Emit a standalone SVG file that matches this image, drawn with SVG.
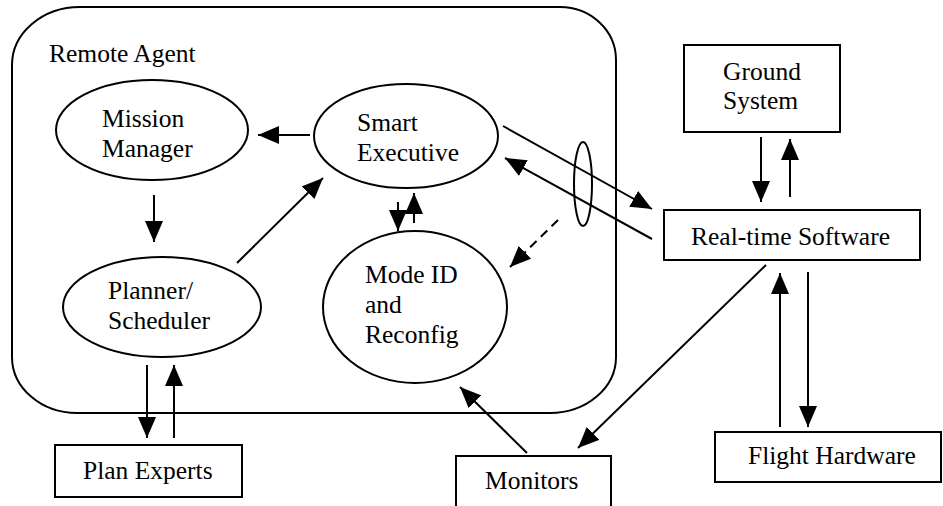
<svg xmlns="http://www.w3.org/2000/svg" width="943" height="506" viewBox="0 0 943 506">
  <style>
    .shape { fill: none; stroke: #000; stroke-width: 2; }
    .label { font-family: "Liberation Serif", "Times New Roman", serif; font-size: 25.5px; fill: #000; }
    .link { fill: none; stroke: #000; stroke-width: 2; marker-end: url(#head); }
    .dashed { stroke-dasharray: 9 6; }
  </style>
  <defs>
    <marker id="head" markerUnits="userSpaceOnUse" markerWidth="22" markerHeight="18" refX="21" refY="9" orient="auto">
      <path d="M0,0 L21,9 L0,18 Z" fill="#000"/>
    </marker>
  </defs>
  <rect x="0" y="0" width="943" height="506" fill="#fff"/>

  <!-- Remote Agent container (rounded outline with slightly uneven corners) -->
  <g id="remote-agent">
    <path class="shape" d="M80,7 L560,7 A56,53 0 0 1 616,60 L616,357 A66,56 0 0 1 550,413 L77,413 A65,56 0 0 1 12,357 L12,65 A68,58 0 0 1 80,7 Z"/>
    <text class="label" x="49" y="62">Remote Agent</text>
  </g>

  <g id="mission-manager">
    <ellipse class="shape" cx="152" cy="130" rx="96" ry="50"/>
    <text class="label" x="102" y="127">Mission</text>
    <text class="label" x="102" y="157">Manager</text>
  </g>

  <g id="smart-executive">
    <ellipse class="shape" cx="406" cy="136" rx="92" ry="52"/>
    <text class="label" x="357" y="131">Smart</text>
    <text class="label" x="357" y="161">Executive</text>
  </g>

  <g id="planner-scheduler">
    <ellipse class="shape" cx="162" cy="307" rx="99" ry="50"/>
    <text class="label" x="108" y="299">Planner/</text>
    <text class="label" x="108" y="329">Scheduler</text>
  </g>

  <g id="mode-id-reconfig">
    <ellipse class="shape" cx="415" cy="307" rx="92" ry="76"/>
    <text class="label" x="365" y="283">Mode ID</text>
    <text class="label" x="365" y="313">and</text>
    <text class="label" x="365" y="343">Reconfig</text>
  </g>

  <g id="ground-system">
    <rect class="shape" x="684" y="45" width="156" height="87"/>
    <text class="label" x="723" y="80">Ground</text>
    <text class="label" x="723" y="109">System</text>
  </g>

  <g id="real-time-software">
    <rect class="shape" x="664" y="210" width="256" height="50"/>
    <text class="label" x="691" y="245">Real-time Software</text>
  </g>

  <g id="flight-hardware">
    <rect class="shape" x="715" y="432" width="226" height="50"/>
    <text class="label" x="748" y="464">Flight Hardware</text>
  </g>

  <g id="monitors">
    <rect class="shape" x="456" y="456" width="155" height="60"/>
    <text class="label" x="485" y="489">Monitors</text>
  </g>

  <g id="plan-experts">
    <rect class="shape" x="55" y="445" width="187" height="52"/>
    <text class="label" x="83" y="479">Plan Experts</text>
  </g>

  <!-- Connectors -->
  <g id="connectors">
    <line class="link" x1="310" y1="135" x2="258" y2="135"/>
    <line class="link" x1="154" y1="195" x2="154" y2="242"/>
    <line class="link" x1="237" y1="263" x2="323" y2="178"/>
    <line class="link" x1="398" y1="202" x2="398" y2="231"/>
    <line class="link" x1="414" y1="223" x2="414" y2="193"/>
    <line class="link" x1="503" y1="126" x2="652" y2="209"/>
    <line class="link" x1="652" y1="239" x2="505" y2="158"/>
    <ellipse class="shape" cx="583" cy="184" rx="9" ry="42"/>
    <line class="link dashed" x1="558" y1="220" x2="510" y2="267"/>
    <line class="link" x1="761" y1="137" x2="761" y2="202"/>
    <line class="link" x1="790" y1="197" x2="790" y2="139"/>
    <line class="link" x1="766" y1="265" x2="578" y2="448"/>
    <line class="link" x1="780" y1="427" x2="780" y2="273"/>
    <line class="link" x1="808" y1="272" x2="808" y2="427"/>
    <line class="link" x1="527" y1="453" x2="460" y2="387"/>
    <line class="link" x1="147" y1="365" x2="147" y2="438"/>
    <line class="link" x1="174" y1="438" x2="174" y2="365"/>
  </g>
</svg>
